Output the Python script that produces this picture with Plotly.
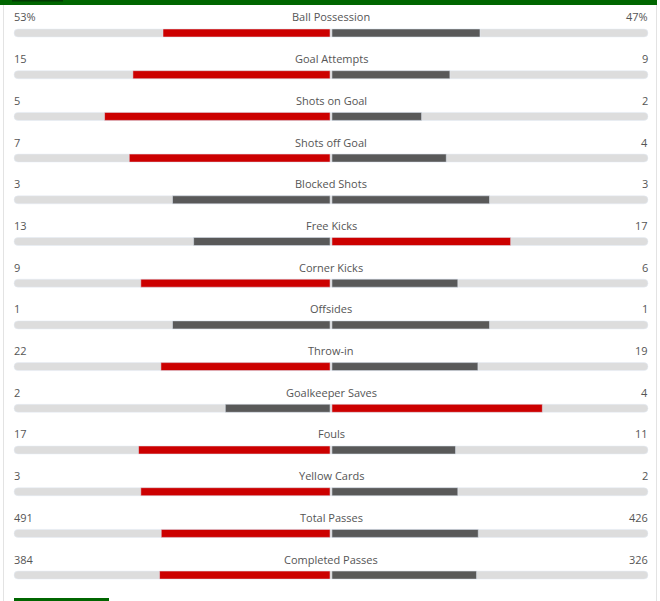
import plotly.graph_objects as go

categories = ["Ball Possession", "Goal Attempts", "Shots on Goal", "Shots off Goal",
              "Blocked Shots", "Free Kicks", "Corner Kicks", "Offsides", "Throw-in",
              "Goalkeeper Saves", "Fouls", "Yellow Cards", "Total Passes", "Completed Passes"]
home = [53, 15, 5, 7, 3, 13, 9, 1, 22, 2, 17, 3, 491, 384]
away = [47, 9, 2, 4, 3, 17, 6, 1, 19, 4, 11, 2, 426, 326]
home_labels = ["53%", "15", "5", "7", "3", "13", "9", "1", "22", "2", "17", "3", "491", "384"]
away_labels = ["47%", "9", "2", "4", "3", "17", "6", "1", "19", "4", "11", "2", "426", "326"]

RED = "#cc0000"
DARK = "#595959"
BG = "#dddddd"
TXT = "#555555"
GAP = 0.003

n = len(categories)
rows = list(range(n))
hs = [h / (h + a) for h, a in zip(home, away)]
as_ = [a / (h + a) for h, a in zip(home, away)]
hcol = [RED if h > a else DARK for h, a in zip(home, away)]
acol = [RED if a > h else DARK for h, a in zip(home, away)]

fig = go.Figure()
fig.add_trace(go.Bar(y=rows, x=[2] * n, base=[-1] * n, orientation="h", width=0.192,
                     marker=dict(color=BG, cornerradius=4), hoverinfo="skip"))
fig.add_trace(go.Bar(y=rows, x=[-(v - GAP) for v in hs], base=[-GAP] * n, orientation="h",
                     width=0.192, marker=dict(color=hcol), hoverinfo="skip"))
fig.add_trace(go.Bar(y=rows, x=[v - GAP for v in as_], base=[GAP] * n, orientation="h",
                     width=0.192, marker=dict(color=acol), hoverinfo="skip"))

font = dict(family="Open Sans, Segoe UI, sans-serif", size=11, color=TXT)
ann = []
for i in rows:
    ann.append(dict(x=0, y=i - 0.384, xref="x", yref="y", text=categories[i], showarrow=False,
                    xanchor="center", yanchor="middle", font=font))
    ann.append(dict(x=-1, y=i - 0.384, xref="x", yref="y", text=home_labels[i], showarrow=False,
                    xanchor="left", yanchor="middle", font=font, xshift=-2))
    ann.append(dict(x=1, y=i - 0.384, xref="x", yref="y", text=away_labels[i], showarrow=False,
                    xanchor="right", yanchor="middle", font=font, xshift=2))

W, H = 660, 601
shapes = [
    dict(type="rect", xref="paper", yref="paper", x0=0, x1=657 / W, y0=1 - 5 / H, y1=1,
         fillcolor="#006600", line_width=0, layer="above"),
    dict(type="rect", xref="paper", yref="paper", x0=12 / W, x1=63 / W, y0=1 - 1.5 / H, y1=1,
         fillcolor="#033903", line_width=0, layer="above"),
    dict(type="line", xref="paper", yref="paper", x0=3.5 / W, x1=3.5 / W, y0=0, y1=1 - 5 / H,
         line=dict(color="#e3e3e3", width=1)),
    dict(type="line", xref="paper", yref="paper", x0=656.5 / W, x1=656.5 / W, y0=0, y1=1 - 5 / H,
         line=dict(color="#e3e3e3", width=1)),
    dict(type="rect", xref="paper", yref="paper", x0=14 / W, x1=109 / W, y0=0, y1=3 / H,
         fillcolor="#006600", line_width=0, layer="above"),
]

fig.update_layout(
    width=W, height=H, margin=dict(l=0, r=0, t=0, b=0),
    paper_bgcolor="white", plot_bgcolor="white", barmode="overlay", showlegend=False,
    xaxis=dict(range=[-1 - 14 / 317, 1 + 12 / 317], visible=False, fixedrange=True),
    yaxis=dict(range=[(601 - 33) / 41.7, -33 / 41.7], visible=False, fixedrange=True),
    annotations=ann, shapes=shapes,
)
fig.write_html("out.html")
